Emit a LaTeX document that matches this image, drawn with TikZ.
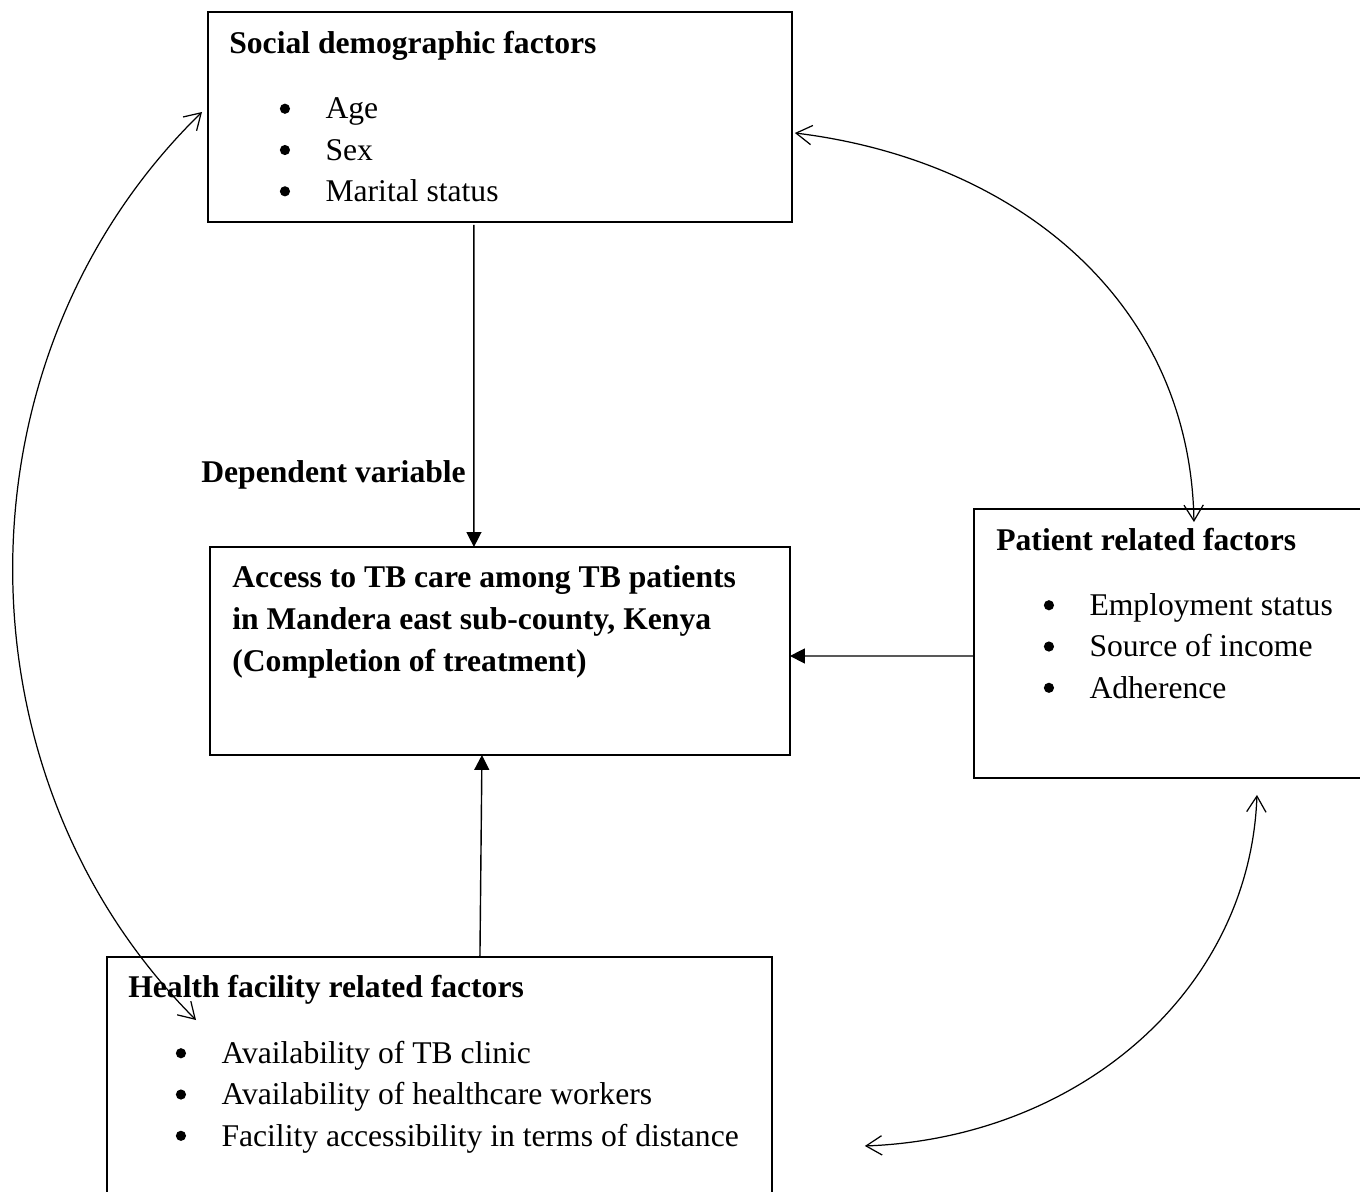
\documentclass[tikz,border=0pt]{standalone}
\usepackage{fontspec}
\setmainfont{Liberation Serif}
\usetikzlibrary{arrows.meta,positioning}

% large round bullet, as in the word-processor list
\newcommand{\bul}{\makebox[26pt][l]{\tikz[baseline=0pt]\fill (3.1pt,5.8pt) circle (2.9pt);}}

\tikzset{
  factor/.style={draw,line width=1.1pt,inner sep=0pt,outer sep=0pt,anchor=north west},
  heading/.style={font=\fontsize{18}{23.8}\selectfont\bfseries,anchor=base west,inner sep=0pt},
  items/.style={align=left,anchor=base west,inner sep=0pt},
  effect/.style={-{Triangle[length=8.5pt,width=8.5pt]},line width=0.8pt},
  mutual/.style={{Straight Barb[length=9pt,width=11pt]}-{Straight Barb[length=9pt,width=11pt]},line width=0.7pt}
}

\begin{document}
\begin{tikzpicture}[x=0.02cm,y=-0.02cm,font=\fontsize{18}{23.5}\selectfont]
  \useasboundingbox (0,0) rectangle (1360,1191);

  % boxes
  \node[factor,minimum width=11.68cm,minimum height=4.2cm] (social) at (208,12) {};
  \node[factor,minimum width=11.6cm,minimum height=4.16cm] (access) at (210,547) {};
  \node[factor,minimum width=7.76cm,minimum height=5.38cm] (patient) at (974,509) {};
  \node[factor,minimum width=13.3cm,minimum height=4.72cm] (health) at (107,957) {};

  % texts (multi-line nodes sit on their last line)
  \node[heading] (socialtitle) at (229,53) {Social demographic factors};
  \node[items] (socialitems) at (279.5,201.5) {\bul Age\\ \bul Sex\\ \bul Marital status};
  \node[heading] (dependent) at (201,482) {Dependent variable};
  \node[heading,align=left] (accesstitle) at (232,671) {Access to TB care among TB patients\\ in Mandera east sub-county, Kenya\\ (Completion of treatment)};
  \node[heading] (patienttitle) at (996,550) {Patient related factors};
  \node[items] (patientitems) at (1043.5,698) {\bul Employment status\\ \bul Source of income\\ \bul Adherence};
  \node[heading] (healthtitle) at (128,997) {Health facility related factors};
  \node[items] (healthitems) at (175.5,1146) {\bul Availability of TB clinic\\ \bul Availability of healthcare workers\\ \bul Facility accessibility in terms of distance};

  % free ends of the curved arrows
  \coordinate (socialleft) at ([shift={(-6,100)}]social.north west);
  \coordinate (socialright) at ([shift={(3,16)}]social.east);
  \coordinate (healthin) at ([shift={(89,63)}]health.north west);
  \coordinate (healthright) at ([shift={(93,71)}]health.east);
  \coordinate (patienttop) at ([shift={(26,13)}]patient.north);
  \coordinate (patientbelow) at ([shift={(89,17)}]patient.south);

  \path
    ([shift={(-26,3)}]social.south) edge[effect] ([shift={(-26,0)}]access.north)
    ([shift={(0,12.5)}]patient.west) edge[effect] ([shift={(0,5)}]access.east)
    ([shift={(40.5,0)}]health.north) edge[effect] ([shift={(-18,0)}]access.south);

  \draw[mutual] (socialleft) .. controls (-49,357) and (-49,775) .. (healthin);
  \draw[mutual] (socialright) .. controls (1015,160) and (1190,300) .. (patienttop);
  \draw[mutual] (patientbelow) .. controls (1250,990) and (1080,1138) .. (healthright);

\end{tikzpicture}
\end{document}
